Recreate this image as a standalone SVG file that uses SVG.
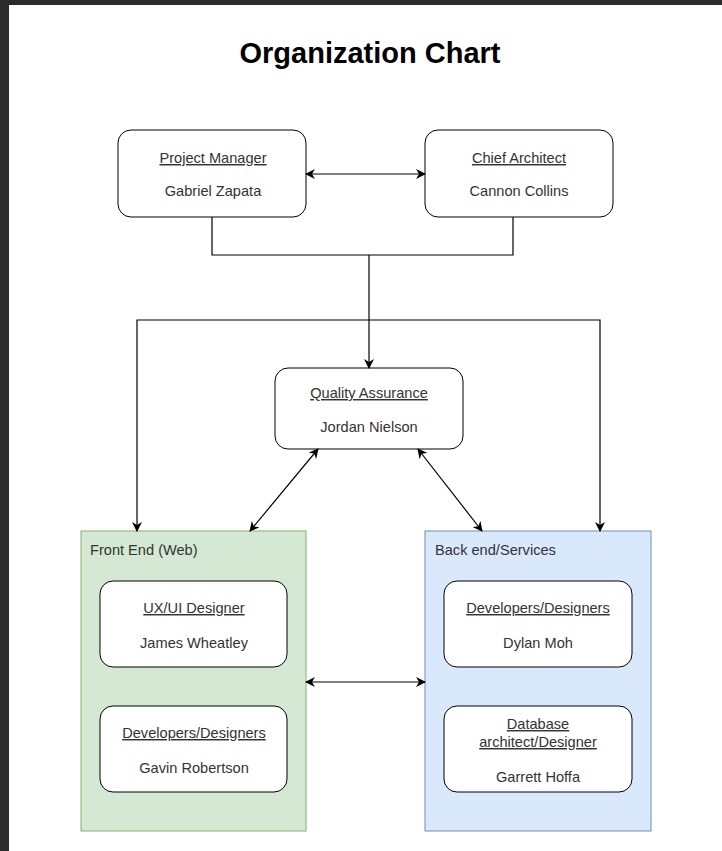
<svg xmlns="http://www.w3.org/2000/svg" width="722" height="851" viewBox="0 0 722 851">
<defs>
<marker id="ah" viewBox="0 0 10 10" refX="9" refY="5" markerWidth="10" markerHeight="10" markerUnits="userSpaceOnUse" orient="auto-start-reverse">
<path d="M0,0 L10,5 L0,10 L3,5 Z" fill="#000"/>
</marker>
<style>
.box{fill:#fff;stroke:#000;stroke-width:1}
.t{font-family:"Liberation Sans",Arial,sans-serif;font-size:14.6px;fill:#333;text-anchor:middle}
.u{text-decoration:underline}
.lbl{font-family:"Liberation Sans",Arial,sans-serif;font-size:14.6px;fill:#333}
.c{fill:none;stroke:#000;stroke-width:1.2}
</style>
</defs>
<rect x="0" y="0" width="722" height="851" fill="#2b2b2b"/>
<rect x="9" y="5" width="713" height="846" fill="#fff"/>
<text x="370" y="63" font-family="Liberation Sans,Arial,sans-serif" font-size="29" font-weight="bold" text-anchor="middle" fill="#000">Organization Chart</text>

<g id="frontend">
<rect x="81" y="531" width="225" height="300" fill="#d5e8d4" stroke="#82b366"/>
<text class="lbl" x="90" y="555">Front End (Web)</text>
</g>
<g id="backend">
<rect x="425" y="531" width="226" height="300" fill="#dae8fc" stroke="#6c8ebf"/>
<text class="lbl" x="435" y="555">Back end/Services</text>
</g>

<g id="pm">
<rect class="box" x="118" y="130" width="188" height="87" rx="13"/>
<text class="t u" x="213" y="163">Project Manager</text>
<text class="t" x="213" y="196">Gabriel Zapata</text>
</g>
<g id="ca">
<rect class="box" x="425" y="130" width="188" height="87" rx="13"/>
<text class="t u" x="519" y="163">Chief Architect</text>
<text class="t" x="519" y="196">Cannon Collins</text>
</g>
<g id="qa">
<rect class="box" x="275" y="368" width="188" height="81" rx="13"/>
<text class="t u" x="369" y="398">Quality Assurance</text>
<text class="t" x="369" y="432">Jordan Nielson</text>
</g>
<g id="ux">
<rect class="box" x="100" y="581" width="187" height="86" rx="13"/>
<text class="t u" x="194" y="613">UX/UI Designer</text>
<text class="t" x="194" y="648">James Wheatley</text>
</g>
<g id="fedev">
<rect class="box" x="100" y="706" width="187" height="86" rx="13"/>
<text class="t u" x="194" y="738">Developers/Designers</text>
<text class="t" x="194" y="773">Gavin Robertson</text>
</g>
<g id="bedev">
<rect class="box" x="444" y="581" width="188" height="86" rx="13"/>
<text class="t u" x="538" y="613">Developers/Designers</text>
<text class="t" x="538" y="648">Dylan Moh</text>
</g>
<g id="db">
<rect class="box" x="444" y="706" width="188" height="86" rx="13"/>
<text class="t u" x="538" y="729">Database</text>
<text class="t u" x="538" y="747">architect/Designer</text>
<text class="t" x="538" y="782">Garrett Hoffa</text>
</g>

<g id="connectors">
<path class="c" d="M306,174 L425,174" marker-start="url(#ah)" marker-end="url(#ah)"/>
<path class="c" d="M212,217 L212,255 L513,255 L513,217"/>
<path class="c" d="M369,255 L369,368" marker-end="url(#ah)"/>
<path class="c" d="M137,531 L137,320 L600,320 L600,531" marker-start="url(#ah)" marker-end="url(#ah)"/>
<path class="c" d="M318,449 L250,531" marker-start="url(#ah)" marker-end="url(#ah)"/>
<path class="c" d="M418,449 L482,531" marker-start="url(#ah)" marker-end="url(#ah)"/>
<path class="c" d="M306,682 L425,682" marker-start="url(#ah)" marker-end="url(#ah)"/>
</g>
</svg>
